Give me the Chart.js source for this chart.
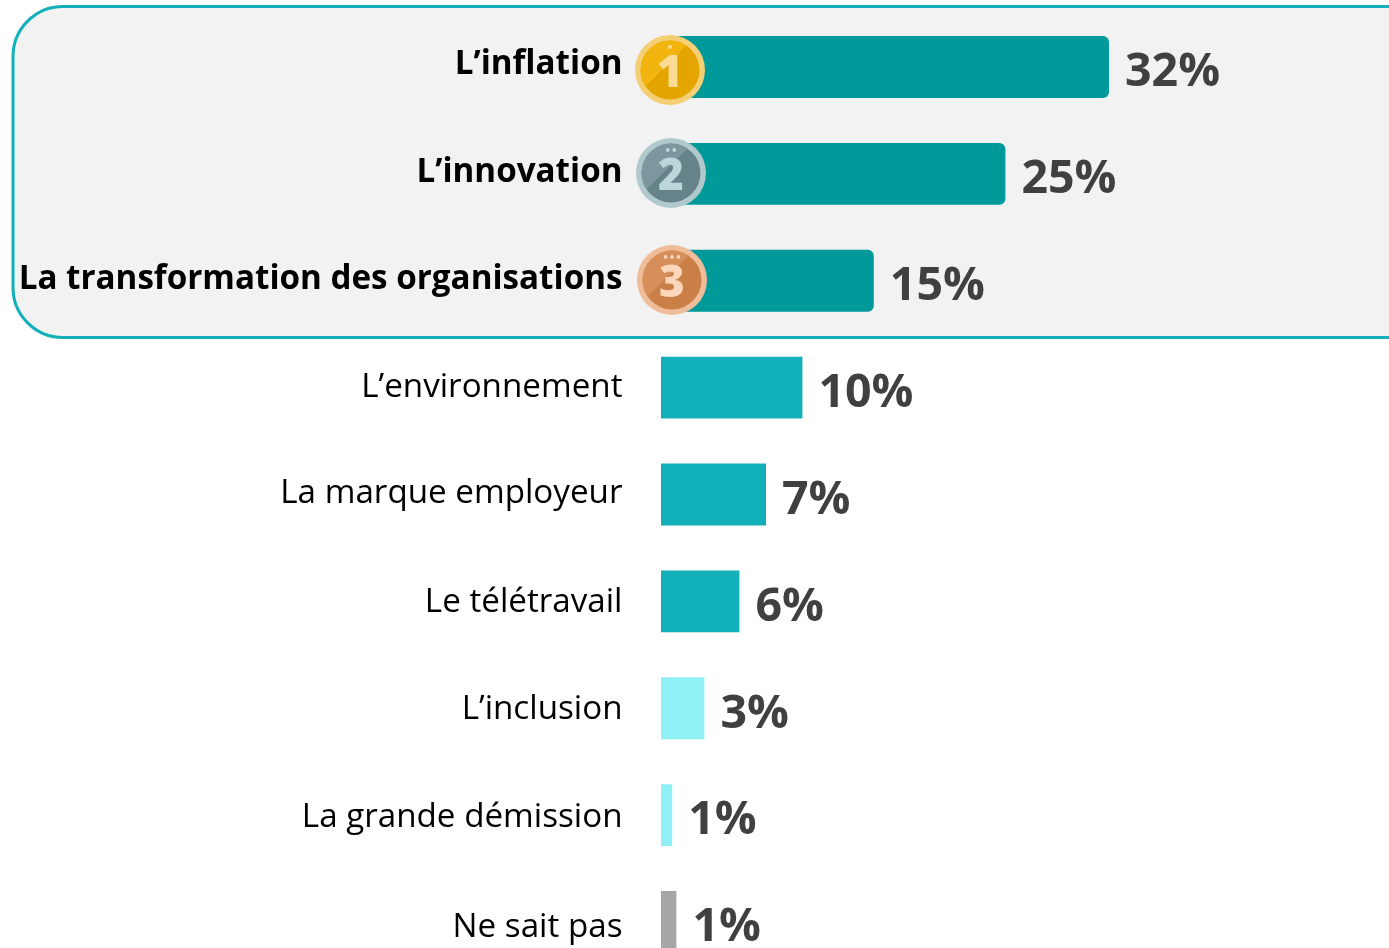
<!DOCTYPE html>
<html><head><meta charset="utf-8">
<script src="https://cdn.jsdelivr.net/npm/chart.js@4"></script>
<style>html,body{margin:0;padding:0;background:#fff;overflow:hidden}
#w{position:relative;width:1389px;height:948px;overflow:hidden}
#w div{width:1389px;height:990px;position:absolute;left:0;top:0}</style>
</head><body><div id="w"><div><canvas id="c"></canvas></div></div>
<script>
const categories = ["L’inflation","L’innovation","La transformation des organisations","L’environnement","La marque employeur","Le télétravail","L’inclusion","La grande démission","Ne sait pas"];
const values = [32, 24.6, 15.2, 10.1, 7.5, 5.6, 3.1, 0.8, 1.1];
const valueLabels = ["32%","25%","15%","10%","7%","6%","3%","1%","1%"];
const barColors = ["#009999","#009999","#009999","#12b0b8","#12b0b8","#12b0b8","#8ff0f5","#8ff0f5","#a6a6a6"];
const labelShift = [-2,-1,-1,0,-1,1,1,2,5];
const medalNumbers = ["1","2","3"];
const medalStyle = [
 {rim:"#f5cf73",dark:"#e5a500",light:"#f2b50f",num:"#fbdc96",cx:670,cy:70},
 {rim:"#b0c9cc",dark:"#66838a",light:"#7d979e",num:"#bcd6da",cx:671,cy:173},
 {rim:"#f0bd9a",dark:"#c97f46",light:"#d68e5a",num:"#fbd6bb",cx:672,cy:280}
];
const FONT = '"Open Sans"';
const panel = {
 id:"panel",
 beforeDraw(ch){
  const c=ch.ctx;c.save();
  c.beginPath();c.roundRect(13,6.5,1440,331,50);
  c.fillStyle="#f2f2f2";c.fill();
  c.lineWidth=3;c.strokeStyle="#12b0b8";c.stroke();c.restore();
  const s=ch.scales.y;
  s.getLabelItems().forEach((it,i)=>{
    if(!it._moved){it.options.translation[1]+=labelShift[i];it._moved=true;}
  });
 },
 afterDatasetsDraw(ch){
  const c=ch.ctx,m=ch.getDatasetMeta(0);
  c.save();c.fillStyle="#404040";c.font='700 46.5px '+FONT;c.textAlign="left";c.textBaseline="middle";
  m.data.forEach((b,i)=>{c.fillText(valueLabels[i],b.x+16,b.y+6);});
  medalStyle.forEach((d,i)=>{
   c.beginPath();c.arc(d.cx,d.cy,35,0,7);c.fillStyle=d.rim;c.fill();
   c.save();c.beginPath();c.arc(d.cx,d.cy,29.5,0,7);c.fillStyle=d.dark;c.fill();c.clip();
   c.beginPath();c.moveTo(d.cx-35,d.cy+27);c.lineTo(d.cx+27,d.cy-35);c.lineTo(d.cx-35,d.cy-35);c.closePath();c.fillStyle=d.light;c.fill();c.restore();
   c.fillStyle=d.num;
   for(let k=0;k<=i;k++){c.beginPath();c.arc(d.cx+(k-i/2)*6.5,d.cy-23,1.9,0,7);c.fill();}
   c.font='800 44px '+FONT;c.textAlign="center";c.fillText(medalNumbers[i],d.cx,d.cy+4);
  });
  c.restore();
 }
};
new Chart(document.getElementById("c"),{
 type:"bar",
 data:{labels:categories,datasets:[{data:values,backgroundColor:barColors,categoryPercentage:1,barPercentage:0.579,
   borderRadius:ctx=>ctx.dataIndex<3?{topRight:6,bottomRight:6,topLeft:0,bottomLeft:0}:0,borderSkipped:false}]},
 plugins:[panel],
 options:{indexAxis:"y",responsive:true,maintainAspectRatio:false,animation:false,
  layout:{padding:{top:13.5,bottom:14.5,left:0,right:0}},
  plugins:{legend:{display:false},tooltip:{enabled:false}},
  scales:{
   x:{min:0,max:52,display:false},
   y:{grid:{display:false,drawTicks:false},border:{display:false},
      afterFit(s){s.width=661;s.paddingTop=0;s.paddingBottom=0;},
      ticks:{padding:38.5,color:"#000",autoSkip:false,
        font:ctx=>ctx.index<3?{family:FONT,size:33.2,weight:"700"}:{family:FONT,size:33.2,weight:"400"}}}
  }}
});
</script></body></html>
